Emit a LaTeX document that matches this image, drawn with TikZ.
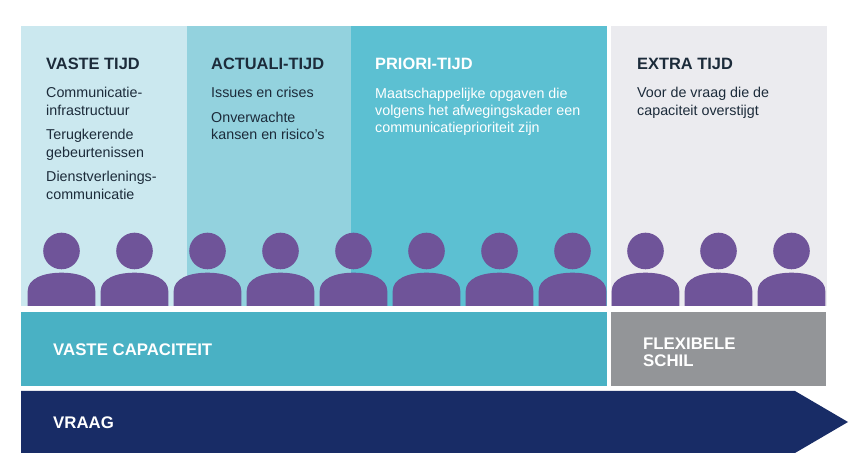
\documentclass[tikz,border=0pt]{standalone}
\usepackage{fontspec}
\setmainfont{Liberation Sans}
\definecolor{cPaleA}{HTML}{CBE8EF}
\definecolor{cPaleB}{HTML}{93D2DE}
\definecolor{cPaleC}{HTML}{5CC0D2}
\definecolor{cGrey}{HTML}{EBEBEF}
\definecolor{cCap}{HTML}{49B1C4}
\definecolor{cFlex}{HTML}{939598}
\definecolor{cNavy}{HTML}{182C66}
\definecolor{cPurple}{HTML}{6F5499}
\definecolor{cInk}{HTML}{1C2B3A}
\tikzset{
  x=1pt,y=-1pt,
  titletext/.style={anchor=base west,inner sep=0pt,font=\bfseries\fontsize{16.4}{18}\selectfont},
  bodytext/.style={anchor=base west,inner sep=0pt,align=left,font=\fontsize{14.3}{17.2}\selectfont},
  bandtext/.style={anchor=base west,inner sep=0pt,align=left,text=white,font=\bfseries\fontsize{16.8}{17}\selectfont},
}
\newcommand{\personfig}[1]{%
  \fill[cPurple] (#1,251) circle (18.3);
  \fill[cPurple] (#1-33.8,306) -- (#1-33.8,291) .. controls (#1-33.8,279) and (#1-19,272.7) .. (#1,272.7)
     .. controls (#1+19,272.7) and (#1+33.8,279) .. (#1+33.8,291) -- (#1+33.8,306) -- cycle;
}
\begin{document}
\begin{tikzpicture}
\useasboundingbox (0,0) rectangle (855,470);
\fill[white] (0,0) rectangle (855,470);
\fill[cPaleA] (21,26) rectangle (187,306);
\fill[cPaleB] (187,26) rectangle (351,306);
\fill[cPaleC] (351,26) rectangle (607,306);
\fill[cGrey] (611,26) rectangle (827,306);
\fill[cCap] (21,312) rectangle (607,386);
\fill[cFlex] (611,312) rectangle (826,386);
\fill[cNavy] (21,391) -- (795,391) -- (848,422) -- (795,453) -- (21,453) -- cycle;
\foreach \px in {61.5,134.5,207.5,280.5,353.5,426.5,499.5,572.5,645.5,718.5,791.5} {\personfig{\px}}
\node[titletext,text=cInk] (t1) at (46,69.6) {VASTE TIJD};
\node[bodytext,text=cInk] (b1a) at (46,115.2) {Communicatie-\\infrastructuur};
\node[bodytext,text=cInk] (b1b) at (46,157.2) {Terugkerende\\gebeurtenissen};
\node[bodytext,text=cInk] (b1c) at (46,199.2) {Dienstverlenings-\\communicatie};
\node[titletext,text=cInk] (t2) at (211,69.6) {ACTUALI-TIJD};
\node[bodytext,text=cInk] (b2a) at (211,97.7) {Issues en crises};
\node[bodytext,text=cInk] (b2b) at (211,139.7) {Onverwachte\\kansen en risico’s};
\node[titletext,text=white] (t3) at (375,69.6) {PRIORI-TIJD};
\node[bodytext,text=white] (b3) at (375,132.7) {Maatschappelijke opgaven die\\volgens het afwegingskader een\\communicatieprioriteit zijn};
\node[titletext,text=cInk] (t4) at (637,69.6) {EXTRA TIJD};
\node[bodytext,text=cInk] (b4) at (637,115.2) {Voor de vraag die de\\capaciteit overstijgt};
\node[bandtext] (cap) at (53,355.6) {VASTE CAPACITEIT};
\node[bandtext] (flex) at (643,366.6) {FLEXIBELE\\SCHIL};
\node[bandtext] (vraag) at (53,428.6) {VRAAG};
\end{tikzpicture}
\end{document}
